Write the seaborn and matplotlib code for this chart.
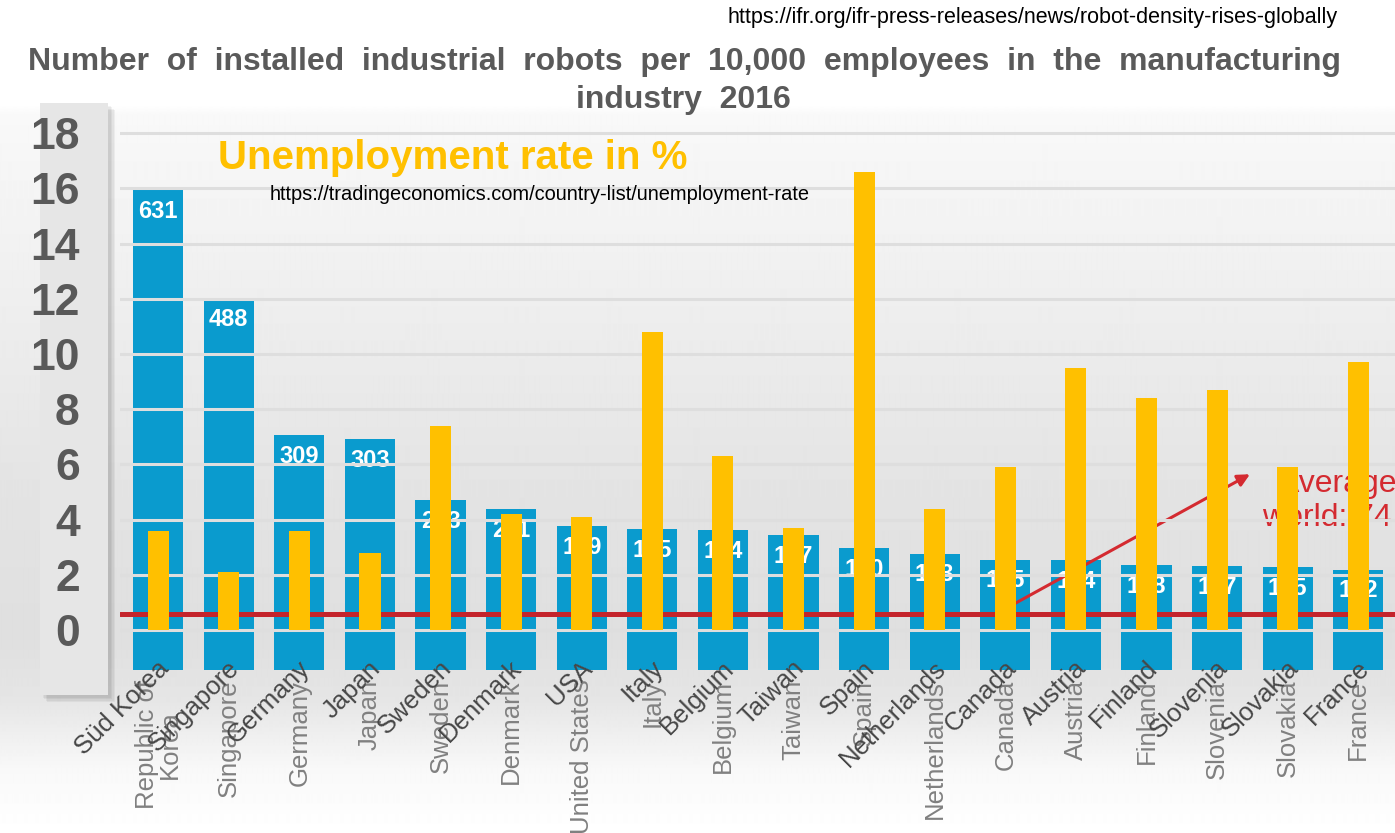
import numpy as np
import pandas as pd
import matplotlib
matplotlib.use("Agg")
import matplotlib.pyplot as plt
import matplotlib.patheffects as pe
from matplotlib.patches import Rectangle
import seaborn as sns

# ---------------------------------------------------------------- data
labels_short = ["Süd Korea", "Singapore", "Germany", "Japan", "Sweden", "Denmark",
                "USA", "Italy", "Belgium", "Taiwan", "Spain", "Netherlands",
                "Canada", "Austria", "Finland", "Slovenia", "Slovakia", "France"]
labels_long = ["Republic of\nKorea", "Singapore", "Germany", "Japan", "Sweden",
               "Denmark", "United States", "Italy", "Belgium", "Taiwan", "Spain",
               "Netherlands", "Canada", "Austria", "Finland", "Slovenia",
               "Slovakia", "France"]
robot_density = [631, 488, 309, 303, 223, 211, 189, 185, 184, 177, 160, 153,
                 145, 144, 138, 137, 135, 132]
unemployment = [3.6, 2.1, 3.6, 2.8, 7.4, 4.2, 4.1, 10.8, 6.3, 3.7, 16.6, 4.4,
                5.9, 9.5, 8.4, 8.7, 5.9, 9.7]
world_average = 74
unemp_ticks = list(range(0, 19, 2))

df = pd.DataFrame({"country": labels_short,
                   "density": robot_density,
                   "unemployment": unemployment})

# ---------------------------------------------------------------- style
sns.set_theme(style="white")
plt.rcParams["font.family"] = ["Liberation Sans", "DejaVu Sans"]

BLUE = "#0A9BCE"
YELLOW = "#FFC000"
RED = "#C4242C"
W, H = 1395, 833

fig = plt.figure(figsize=(W / 100, H / 100), dpi=100)

# soft grey background gradient
bg = fig.add_axes([0, 0, 1, 1], zorder=-10)
rows = np.arange(H)
shade = np.interp(rows, [0, 105, 115, 300, 500, 640, 700, 770, 833],
                  [1.0, 1.0, 0.975, 0.935, 0.89, 0.875, 0.9, 0.975, 1.0])
grad = np.repeat(shade[:, None], 4, axis=1)
bg.imshow(grad, cmap="gray", vmin=0, vmax=1, aspect="auto",
          extent=[0, 1, 0, 1], interpolation="bilinear")
bg.set_xlim(0, 1)
bg.set_ylim(0, 1)
bg.axis("off")

# raised grey panel behind the value axis
panel = Rectangle((40 / W, 1 - 695 / H), 68 / W, (695 - 103) / H,
                  transform=bg.transAxes, facecolor="#E6E6E6", edgecolor="none",
                  zorder=5)
panel.set_path_effects([pe.SimplePatchShadow(offset=(k, -k), shadow_rgbFace="k",
                                             alpha=0.05) for k in (2, 3, 4, 5)]
                       + [pe.Normal()])
bg.add_patch(panel)

# ---------------------------------------------------------------- axes
rect = [120 / W, 1 - 690 / H, (W - 120) / W, (690 - 120) / H]
ax = fig.add_axes(rect)          # robot density (blue)
ax2 = ax.twinx()                 # unemployment rate (yellow)
for a in (ax, ax2):
    a.patch.set_visible(False)
    for s in a.spines.values():
        s.set_visible(False)

# blue robot-density bars
sns.barplot(data=df, x="country", y="density", color=BLUE, width=0.71,
            saturation=1, linewidth=0, edgecolor="none", ax=ax, zorder=1)
for i, v in enumerate(robot_density):
    ax.text(i, v - 28, f"{v}", ha="center", va="center", color="white",
            fontsize=17, fontweight="bold", zorder=2)

# world average line and callout
ax.axhline(world_average, color=RED, lw=3.6, zorder=3)
ax.annotate("", xy=(15.5, 259), xytext=(12.05, 83),
            arrowprops=dict(arrowstyle="-|>", color="#D42A30", lw=2.2,
                            mutation_scale=18), zorder=3)
ax.text(15.64, 264, "  Average\nworld: 74", ha="left", va="top", color="#D42A30",
        fontsize=23, linespacing=1.15, zorder=3, clip_on=False)

ax.set_ylim((670 - 690) / 0.761, (670 - 120) / 0.761)
ax.set_yticks([])
ax.set_xlabel("")
ax.set_ylabel("")

# yellow unemployment bars
sns.barplot(data=df, x="country", y="unemployment", color=YELLOW, width=0.30,
            saturation=1, linewidth=0, edgecolor="none", ax=ax2, zorder=5)
ax2.set_ylim((630 - 690) / 27.6, (630 - 120) / 27.6)
ax2.set_yticks(unemp_ticks)
ax2.yaxis.tick_left()
ax2.tick_params(axis="y", length=0, pad=29, labelsize=32, labelcolor="#595959")
for t in ax2.get_yticklabels():
    t.set_fontweight("bold")
ax2.grid(axis="y", color="#DEDEDE", lw=2.2)
ax2.set_axisbelow(True)
ax2.set_xlabel("")
ax2.set_ylabel("")

for a in (ax, ax2):
    a.set_xlim(-0.54, 17.52)
    a.set_xticks([])

# two sets of country names
for i, (s, l) in enumerate(zip(labels_short, labels_long)):
    ax2.text(i + 0.1, -1.25, s, rotation=45, rotation_mode="anchor",
             ha="right", va="center", fontsize=18.5, color="#474747",
             clip_on=False, zorder=6)
    ax2.text(i, -1.8, l, rotation=90, ha="center", va="top",
             multialignment="center", fontsize=18.5, color="#808080",
             linespacing=0.95, clip_on=False, zorder=4)

# ---------------------------------------------------------------- texts
fig.text(1338 / W, 1 - 18 / H,
         "https://ifr.org/ifr-press-releases/news/robot-density-rises-globally",
         ha="right", va="center", fontsize=15.5, color="black")
fig.text(685 / W, 1 - 62 / H,
         "Number  of  installed  industrial  robots  per  10,000  employees  in  the  manufacturing",
         ha="center", va="center", fontsize=23, fontweight="bold", color="#5A5A5A")
fig.text(683 / W, 1 - 100 / H, "industry  2016", ha="center", va="center",
         fontsize=23, fontweight="bold", color="#5A5A5A")
fig.text(218 / W, 1 - 158 / H, "Unemployment rate in %", ha="left", va="center",
         fontsize=29, fontweight="bold", color=YELLOW)
fig.text(270 / W, 1 - 195 / H,
         "https://tradingeconomics.com/country-list/unemployment-rate",
         ha="left", va="center", fontsize=14.4, color="black")

fig.savefig("out.png", dpi=100)
